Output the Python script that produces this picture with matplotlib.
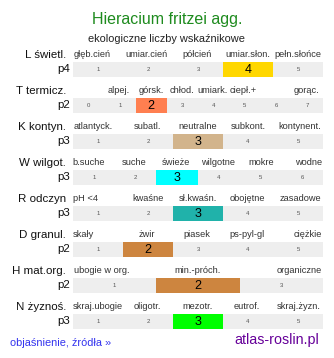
#!/usr/bin/env python3

import matplotlib

matplotlib.use("Agg")
import matplotlib.pyplot as plt

plt.rcParams["font.family"] = ["Liberation Sans", "DejaVu Sans"]

TITLE = "Hieracium fritzei agg."
SUBTITLE = "ekologiczne liczby wskaźnikowe"

ROW_NAMES = ["L świetl.", "T termicz.", "K kontyn.", "W wilgot.",
             "R odczyn", "D granul.", "H mat.org.", "N żyznoś."]
VALUES = [4, 2, 3, 3, 3, 2, 2, 3]
FIRST_NUMBER = [1, 0, 1, 1, 1, 1, 1, 1]
CELL_COUNT = [5, 8, 5, 6, 5, 5, 3, 5]
COLORS = ["#FFD700", "#FF7F50", "#D2B48C", "#00FFFF",
          "#20B2AA", "#CD853F", "#CD853F", "#00FF00"]

CATEGORY_LABELS = [
    ["głęb.cień", "umiar.cień", "półcień", "umiar.słon.", "pełn.słońce"],
    ["alpej.", "górsk.", "chłod.", "umiark.", "ciepł.+", "gorąc."],
    ["atlantyck.", "subatl.", "neutralne", "subkont.", "kontynent."],
    ["b.suche", "suche", "świeże", "wilgotne", "mokre", "wodne"],
    ["pH <4", "kwaśne", "sł.kwaśn.", "obojętne", "zasadowe"],
    ["skały", "żwir", "piasek", "ps-pyl-gl", "ciężkie"],
    ["ubogie w org.", "min.-próch.", "organiczne"],
    ["skraj.ubogie", "oligotr.", "mezotr.", "eutrof.", "skraj.żyzn."],
]

# layout (pixels): horizontal centres of the category labels
LABEL_X = [
    [92, 147, 197, 248, 298],
    [119, 151, 182, 213, 243, 307],
    [93, 148, 198, 248, 300],
    [88.5, 134, 176, 218, 261, 309],
    [85.5, 148, 197.5, 247.5, 300.5],
    [83.5, 147, 197, 247.5, 307.5],
    [101.5, 198, 299.5],
    [98, 147.5, 197.5, 247, 299],
]

W, H = 334, 358
BAR_LEFT, BAR_RIGHT = 73, 323
ROW_TOP0, ROW_STEP, BAR_H = 62, 36, 15


def pt(px):
    return px * 0.72


fig = plt.figure(figsize=(W / 100, H / 100), dpi=100)
ax = fig.add_axes([0, 0, 1, 1])
ax.set_xlim(0, W)
ax.set_ylim(H, 0)
ax.axis("off")

ax.text(W / 2, 19.5, TITLE, ha="center", va="center",
        fontsize=pt(16), color="#1E8B1E")
ax.text(W / 2 - 0.5, 38.5, SUBTITLE, ha="center", va="center",
        fontsize=pt(11), color="#222222")

for i, name in enumerate(ROW_NAMES):
    top = ROW_TOP0 + ROW_STEP * i
    yc = top + BAR_H / 2
    n = CELL_COUNT[i]
    cw = (BAR_RIGHT - BAR_LEFT) / n

    ax.text(66, top - 7.5, name, ha="right", va="center",
            fontsize=pt(11.5), color="#111111")
    ax.text(70, yc, f"p{VALUES[i]}", ha="right", va="center",
            fontsize=pt(11.5), color="#111111")

    for lab, lx in zip(CATEGORY_LABELS[i], LABEL_X[i]):
        ax.text(lx, top - 7.5, lab, ha="center", va="center",
                fontsize=pt(9.3), color="#333333")

    ax.barh(yc, BAR_RIGHT - BAR_LEFT, left=BAR_LEFT, height=BAR_H,
            color="#EEEEEE", linewidth=0)

    k = VALUES[i] - FIRST_NUMBER[i]
    ax.barh(yc, cw, left=BAR_LEFT + k * cw, height=BAR_H,
            color=COLORS[i], linewidth=0)

    for j in range(n):
        cx = BAR_LEFT + (j + 0.5) * cw
        num = FIRST_NUMBER[i] + j
        if j == k:
            ax.text(cx, yc + 0.3, str(num), ha="center", va="center",
                    fontsize=pt(12.5), color="#000000")
        else:
            ax.text(cx, yc, str(num), ha="center", va="center",
                    fontsize=pt(6), color="#555555")

ax.text(10, 343, "objaśnienie, źródła »", ha="left", va="center",
        fontsize=pt(11), color="#3333EE")
ax.text(319, 340, "atlas-roslin.pl", ha="right", va="center",
        fontsize=pt(14.3), color="#660099")

fig.savefig("out.png", dpi=100)
